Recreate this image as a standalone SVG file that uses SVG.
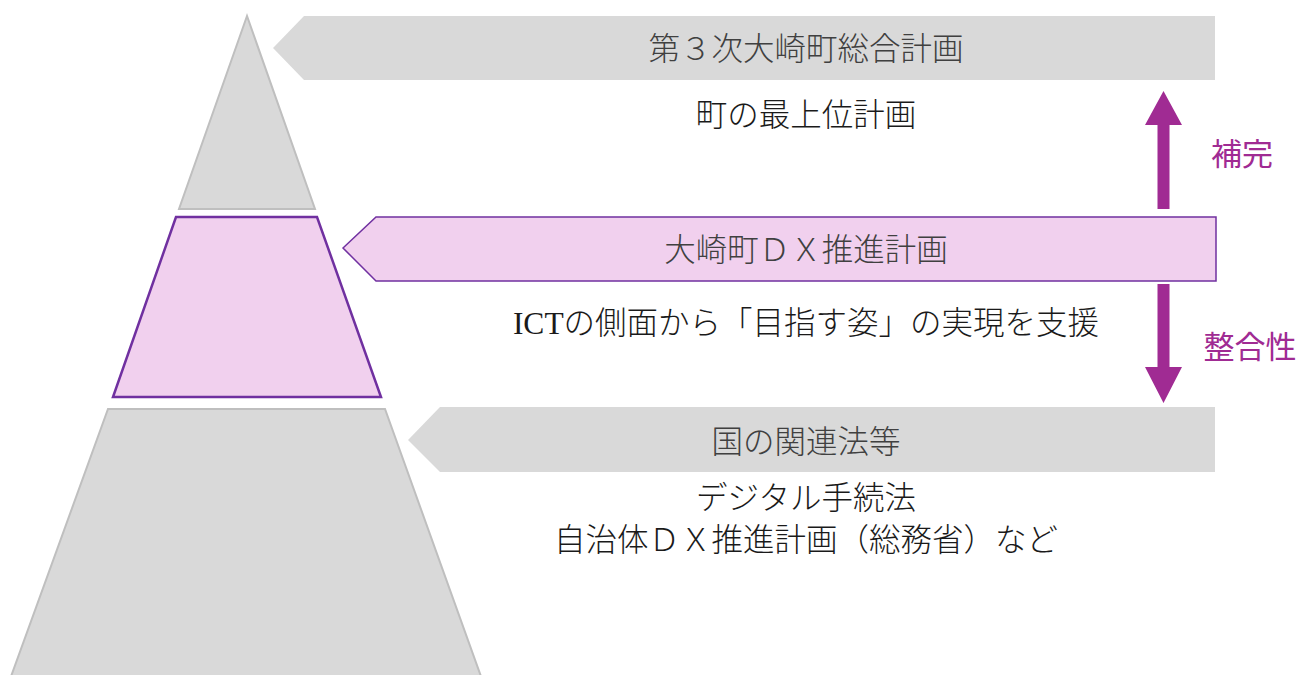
<svg xmlns="http://www.w3.org/2000/svg" width="1300" height="675" viewBox="0 0 1300 675">
  <style>
    .gray { fill: #d9d9d9; }
    .pyr { fill: #d9d9d9; stroke: #bfbfbf; stroke-width: 2; stroke-linejoin: miter; }
    .pink { fill: #f1d0ee; stroke: #7030a0; }
    .title { font-family: "Liberation Serif", "Noto Sans CJK JP", serif; font-size: 31.5px; font-weight: 300; fill: #404040; text-anchor: middle; }
    .sub { font-family: "Liberation Serif", "Noto Sans CJK JP", serif; font-size: 31.5px; font-weight: 300; fill: #1a1a1a; text-anchor: middle; }
    .rel { font-family: "Noto Sans CJK JP", sans-serif; font-size: 31px; fill: #a02b93; text-anchor: middle; }
    .arr { fill: #a02b93; }
  </style>
  <rect width="1300" height="675" fill="#ffffff"/>

  <g id="pyramid-top">
    <polygon class="pyr" points="247,16 179,209 315,209"/>
  </g>
  <g id="pyramid-middle">
    <polygon class="pink" stroke-width="2.5" points="176,217 317,217 381,397 113,397"/>
  </g>
  <g id="pyramid-bottom">
    <polygon class="pyr" points="108,409 385,409 483,682 9,682"/>
  </g>

  <g id="plan-general">
    <polygon class="gray" points="273,48 304,16 1215,16 1215,80 304,80"/>
    <text class="title" x="806" y="60">第３次大崎町総合計画</text>
    <text class="sub" x="806" y="126">町の最上位計画</text>
  </g>

  <g id="plan-dx">
    <polygon class="pink" stroke-width="1.5" points="343,248 376,217 1216,217 1216,281 376,281"/>
    <text class="title" x="806" y="261">大崎町ＤＸ推進計画</text>
    <text class="sub" x="806" y="334">ICTの側面から「目指す姿」の実現を支援</text>
  </g>

  <g id="plan-national">
    <polygon class="gray" points="408,440 440,407 1215,407 1215,472 440,472"/>
    <text class="title" x="806" y="453">国の関連法等</text>
    <text class="sub" x="806" y="509">デジタル手続法</text>
    <text class="sub" x="806" y="551">自治体ＤＸ推進計画（総務省）など</text>
  </g>

  <g id="connectors">
    <polygon class="arr" points="1163.5,91 1182,125 1169.5,125 1169.5,209 1157.5,209 1157.5,125 1145,125"/>
    <polygon class="arr" points="1157.5,284 1169.5,284 1169.5,367 1182,367 1163.5,403 1145,367 1157.5,367"/>
    <text class="rel" x="1242" y="165">補完</text>
    <text class="rel" x="1250" y="358">整合性</text>
  </g>
</svg>
